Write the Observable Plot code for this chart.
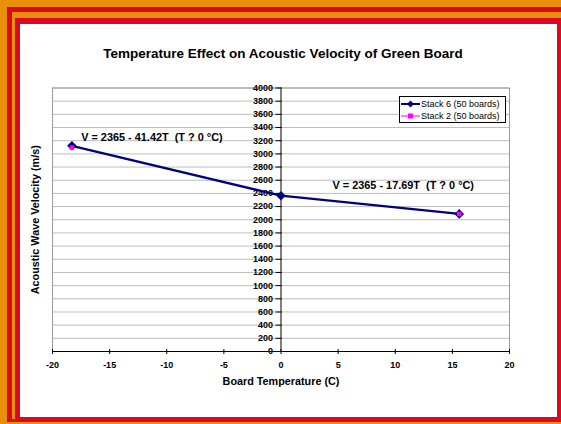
<!DOCTYPE html>
<html><head><meta charset="utf-8">
<script src="https://cdn.jsdelivr.net/npm/d3@7"></script>
<script src="https://cdn.jsdelivr.net/npm/@observablehq/plot@0.6"></script>
<style>
html,body{margin:0;padding:0;}
body{width:561px;height:424px;overflow:hidden;position:relative;background:#E8900C;font-family:"Liberation Sans",Arial,sans-serif;}
.b{position:absolute;}
#legend{left:399px;top:96px;width:107px;height:27px;box-sizing:border-box;border:1px solid #000;background:#fff;font-size:9px;padding-top:1px;}
#legend .row{display:flex;align-items:center;height:12px;white-space:nowrap;}
</style></head><body>
<div class="b" style="left:7px;top:7px;width:554px;height:415px;background:#DC0A20"></div>
<div class="b" style="left:12px;top:12px;width:549px;height:407px;background:#E8900C"></div>
<div class="b" style="left:15px;top:18px;width:546px;height:404px;background:#DC0A20"></div>
<div class="b" id="chart" style="left:20px;top:24px;width:537px;height:393px;background:#fff"></div>
<div class="b" id="legend"></div>
<script>
// ---- data ----
const titleText = "Temperature Effect on Acoustic Velocity of Green Board";
const xLabel = "Board Temperature (C)";
const yLabel = "Acoustic Wave Velocity (m/s)";
const seriesNames = ["Stack 6 (50 boards)", "Stack 2 (50 boards)"];
const seriesColors = ["#000080", "#FF00FF"];
const stack6Temp = [-18.3, 0, 15.6];
const stack6Vel = [3123, 2365, 2089];
const stack2Temp = [-18.3, 15.6];
const stack2Vel = [3095, 2089];
const xTicks = [-20, -15, -10, -5, 0, 5, 10, 15, 20];
const yTicks = [0, 200, 400, 600, 800, 1000, 1200, 1400, 1600, 1800, 2000, 2200, 2400, 2600, 2800, 3000, 3200, 3400, 3600, 3800, 4000];
const noteTexts = ["V = 2365 - 41.42T  (T ? 0 °C)", "V = 2365 - 17.69T  (T ? 0 °C)"];
const noteX = [-11.3, 10.7];
const noteY = [3250, 2520];

const s6 = stack6Temp.map((t, i) => ({t, v: stack6Vel[i]}));
const s2 = stack2Temp.map((t, i) => ({t, v: stack2Vel[i]}));
const notes = noteTexts.map((text, i) => ({text, x: noteX[i], y: noteY[i]}));
const font = "'Liberation Sans', Arial, sans-serif";

const chart = Plot.plot({
  width: 537, height: 393,
  marginLeft: 32, marginRight: 48, marginTop: 63.5, marginBottom: 66,
  x: {domain: [-20, 20], axis: null},
  y: {domain: [0, 4000], axis: null},
  style: {fontFamily: font, background: "transparent", overflow: "visible", color: "#000"},
  marks: [
    Plot.ruleY(yTicks, {stroke: "#bdbdbd", strokeWidth: 1}),
    Plot.frame({stroke: "#9a9a9a"}),
    Plot.ruleX([0], {stroke: "#000", strokeWidth: 1}),
    Plot.ruleY([0], {stroke: "#000", strokeWidth: 1.2}),
    Plot.ruleY(yTicks, {x1: 0, x2: 0, insetLeft: -5, insetRight: -1, stroke: "#000"}),
    Plot.ruleX(xTicks, {y1: 0, y2: 0, insetTop: -2, insetBottom: -3, stroke: "#000"}),
    Plot.text(yTicks, {x: 0, y: d => d, text: d => String(d), textAnchor: "end", dx: -8, fontWeight: "bold", fontSize: 9}),
    Plot.text(xTicks, {x: d => d, y: 0, text: d => String(d), dy: 14, fontWeight: "bold", fontSize: 9}),
    Plot.line(s6, {x: "t", y: "v", stroke: seriesColors[0], strokeWidth: 2.3}),
    Plot.dot(s6, {x: "t", y: "v", symbol: "diamond2", r: 4.3, fill: seriesColors[0], stroke: "none"}),
    Plot.dot(s2, {x: "t", y: "v", symbol: "square", r: 2.6, fill: seriesColors[1], stroke: "none"}),
    Plot.text(notes, {x: "x", y: "y", text: "text", fontWeight: "bold", fontSize: 10.9}),
    Plot.text([titleText], {text: d => d, frameAnchor: "top", dy: -40, dx: 2, fontWeight: "bold", fontSize: 13.5}),
    Plot.text([xLabel], {text: d => d, frameAnchor: "bottom", dy: 33, fontWeight: "bold", fontSize: 10.8}),
    Plot.text([yLabel], {text: d => d, frameAnchor: "left", textAnchor: "middle", dx: -17, rotate: -90, fontWeight: "bold", fontSize: 10.8})
  ]
});
document.getElementById("chart").appendChild(chart);

// legend
const leg = document.getElementById("legend");
seriesNames.forEach((name, i) => {
  const row = document.createElement("div");
  row.className = "row";
  const marker = i === 0
    ? '<path d="M10.5,1.5L14,5L10.5,8.5L7,5Z" fill="' + seriesColors[i] + '"/>'
    : '<rect x="8" y="2.5" width="5" height="5" fill="' + seriesColors[i] + '"/>';
  row.innerHTML = '<svg width="21" height="10"><line x1="1" x2="20" y1="5" y2="5" stroke="' + seriesColors[i] + '" stroke-width="' + (i === 0 ? 2 : 1) + '"/>' + marker + '</svg><span>' + name + '</span>';
  leg.appendChild(row);
});
</script>
</body></html>
